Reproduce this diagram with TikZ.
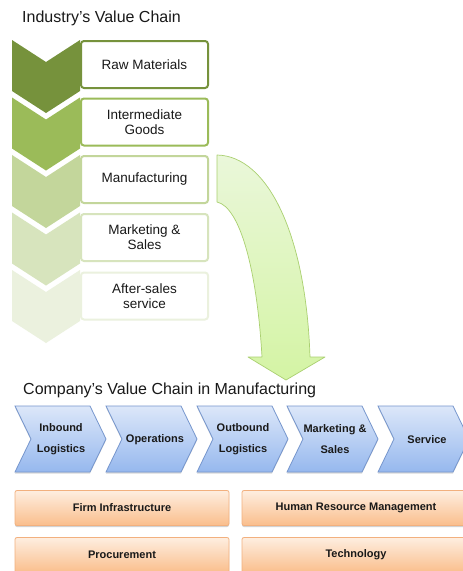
\documentclass[tikz,border=0pt]{standalone}
\usepackage{fontspec}
\setmainfont{Liberation Sans}
\usetikzlibrary{shadows}
\definecolor{g1}{RGB}{118,146,60}
\definecolor{g2}{RGB}{155,187,89}
\definecolor{g3}{RGB}{195,214,155}
\definecolor{g4}{RGB}{215,228,189}
\definecolor{g5}{RGB}{235,241,222}
\definecolor{txt}{RGB}{25,25,25}
\definecolor{arrtop}{RGB}{234,247,218}
\definecolor{arrbot}{RGB}{212,244,164}
\definecolor{arrline}{RGB}{170,208,112}
\definecolor{btop}{RGB}{220,231,249}
\definecolor{bbot}{RGB}{150,184,238}
\definecolor{bline}{RGB}{118,150,205}
\definecolor{otop}{RGB}{254,238,224}
\definecolor{obot}{RGB}{250,190,140}
\definecolor{oline}{RGB}{242,176,126}
\begin{document}
\begin{tikzpicture}[x=1pt,y=-1pt,
  title/.style={anchor=west,inner sep=0pt,text=txt,font=\fontsize{16}{18}\selectfont},
  gbox/.style={draw,line width=2pt,rounded corners=3pt,fill=white,minimum width=127pt,minimum height=47pt,inner sep=0pt,align=center,text=txt,font=\fontsize{13.5}{15}\selectfont},
  chev/.style={top color=btop,bottom color=bbot,draw=bline,line width=0.8pt,drop shadow={shadow xshift=0pt,shadow yshift=-1.5pt,opacity=0.3}},
  ctext/.style={inner sep=0pt,align=center,text=txt,font=\bfseries\fontsize{11}{21}\selectfont},
  obox/.style={draw=oline,line width=0.8pt,rounded corners=2pt,top color=otop,bottom color=obot,minimum height=35pt,inner sep=0pt,text=txt,font=\bfseries\fontsize{11}{13}\selectfont,drop shadow={shadow xshift=0pt,shadow yshift=-1.5pt,opacity=0.35}}
]
\useasboundingbox (0,0) rectangle (463,571);
\clip (0,0) rectangle (463,571);
\fill[white] (0,0) rectangle (463,571);

% Industry title
\node[title] (t1) at (22,18) {Industry’s Value Chain};

% green down chevrons
\foreach \t/\c in {40/g1, 97.5/g2, 155/g3, 212.5/g4, 270/g5}
  \fill[\c] (12,\t) -- ++(34,22) -- ++(34,-22) -- ++(0,51) -- ++(-34,22) -- ++(-34,-22) -- cycle;

% green boxes
\node[gbox,draw=g1] (b1) at (144.5,64.5) {Raw Materials};
\node[gbox,draw=g2] (b2) at (144.5,122) {Intermediate\\Goods};
\node[gbox,draw=g3] (b3) at (144.5,179.5) {Manufacturing};
\node[gbox,draw=g4] (b4) at (144.5,237.5) {Marketing \&\\Sales};
\node[gbox,draw=g5] (b5) at (144.5,296) {After-sales\\service};

% curved arrow
\draw[draw=arrline,line width=0.7pt,top color=arrtop,bottom color=arrbot,line join=round]
  (217,155) .. controls (268,156) and (306,235) .. (310,357)
  -- (325,357) -- (286,380) -- (248,357) -- (262,357)
  .. controls (257,270) and (240,207) .. (217,202) -- cycle;

% Company title
\node[title] (t2) at (23,390) {Company’s Value Chain in Manufacturing};

% blue right chevrons
\foreach \L in {15,106,197,287,378}
  \path[chev] (\L,406) -- ++(75,0) -- ++(16,33) -- ++(-16,33) -- ++(-75,0) -- ++(16,-33) -- cycle;

\node[ctext] (c1) at (61,439.5) {Inbound\\Logistics};
\node[ctext] (c2) at (155,440) {Operations};
\node[ctext] (c3) at (243,439.5) {Outbound\\Logistics};
\node[ctext] (c4) at (335,439.5) {Marketing \&\\Sales};
\node[ctext] (c5) at (427,440) {Service};

% orange support boxes
\node[obox,minimum width=214pt] (o1) at (122,508) {Firm Infrastructure};
\node[obox,minimum width=228pt] (o2) at (356,508) {Human Resource Management};
\node[obox,minimum width=214pt] (o3) at (122,555) {Procurement};
\node[obox,minimum width=228pt] (o4) at (356,555) {Technology};
\end{tikzpicture}
\end{document}
